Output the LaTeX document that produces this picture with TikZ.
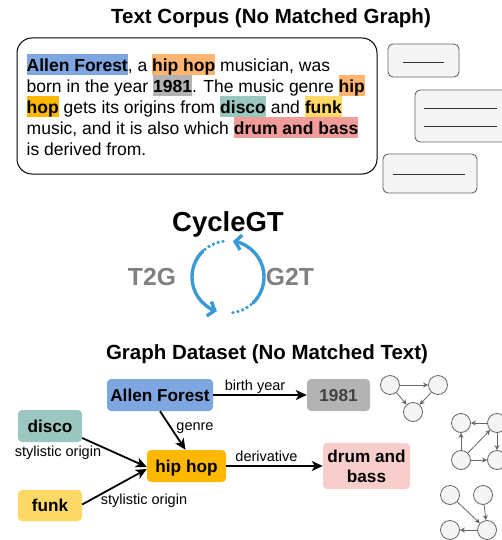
\documentclass[tikz,border=0pt]{standalone}
\usepackage{fontspec}
\setmainfont{Liberation Sans}
\usetikzlibrary{arrows.meta,calc}
\definecolor{cblue}{HTML}{7EA6E0}
\definecolor{cpeach}{HTML}{FFB570}
\definecolor{corange}{HTML}{FFB800}
\definecolor{cgray}{HTML}{B3B3B3}
\definecolor{cteal}{HTML}{9AC7BF}
\definecolor{cyellow}{HTML}{FFD966}
\definecolor{cred}{HTML}{F19C99}
\definecolor{cpink}{HTML}{F8CECC}
\definecolor{cboxfill}{HTML}{F5F5F5}
\definecolor{cboxdraw}{HTML}{666666}
\definecolor{ccycle}{HTML}{3A9AD6}
\definecolor{ctxtgray}{HTML}{808080}
\newcommand\hlt[2]{{\setlength{\fboxsep}{0pt}\colorbox{#1}{\rule[-3.7pt]{0pt}{21pt}\textbf{#2}}}}
\begin{document}
\begin{tikzpicture}[x=1pt,y=-1pt,
  title/.style={anchor=base, inner sep=0pt, font=\bfseries\fontsize{20.5}{24}\selectfont},
  gnode/.style={rounded corners=4pt, inner sep=0pt, font=\bfseries\fontsize{17.2}{20}\selectfont, align=center},
  oneline/.style={text height=12.3pt, text depth=0pt},
  rel/.style={draw=black, line width=1.8pt, -{Stealth[length=11pt,width=10pt,inset=3pt]}},
  lbl/.style={anchor=base, inner sep=0pt, font=\fontsize{14.5}{17}\selectfont},
  minibox/.style={draw=cboxdraw, fill=cboxfill, rounded corners=5pt, line width=0.9pt, inner sep=0pt},
  miniline/.style={draw=black!80, line width=0.9pt},
  mini/.style={circle, minimum size=19pt, inner sep=0pt, draw=cboxdraw, fill=cboxfill, line width=0.8pt},
  miniarr/.style={draw=cboxdraw, line width=0.8pt, -{Stealth[length=5pt,width=5pt]}},
  cyc/.style={draw=ccycle, line width=3.4pt, line cap=round},
  cycdots/.style={draw=ccycle, line width=3.6pt, line cap=round, dash pattern=on 0pt off 5pt},
  cycarr/.style={-{Straight Barb[length=6pt,width=15pt]}}
]
\useasboundingbox (0,0) rectangle (502,540);

% ---------- Text corpus ----------
\node[title] (t1) at (271,23.7) {Text Corpus (No Matched Graph)};
\draw[line width=1pt, rounded corners=15pt, fill=white] (17,38) rectangle (377,174);
\node[anchor=north west, inner sep=0pt, align=left, font=\fontsize{17.5}{21}\selectfont] (corpus) at (26.5,53.7)
{\hlt{cblue}{Allen Forest}, a \hlt{cpeach}{hip hop} musician, was\\
born in the year \hlt{cgray}{1981}. The music genre \hlt{cpeach}{hip}\\
\hlt{corange}{hop} gets its origins from \hlt{cteal}{disco} and \hlt{cyellow}{funk}\\
music, and it is also which \hlt{cred}{drum and bass}\\
is derived from.};

% right boxes
\node[minibox, minimum width=71pt, minimum height=33pt] (rb1) at (423.5,60.5) {};
\draw[miniline] (403,62) -- (444,62);
\node[minibox, minimum width=92pt, minimum height=52pt] (rb2) at (461,116) {};
\draw[miniline] (424,108) -- (497,108);
\draw[miniline] (424,126) -- (497,126);
\node[minibox, minimum width=94pt, minimum height=39pt] (rb3) at (430,173.5) {};
\draw[miniline] (393,174) -- (465,174);

% ---------- CycleGT ----------
\node[anchor=base, inner sep=0pt, font=\bfseries\fontsize{27.5}{30}\selectfont] (cgt) at (228,231.7) {CycleGT};
\node[anchor=base, inner sep=0pt, text=ctxtgray, font=\bfseries\fontsize{24.7}{28}\selectfont] (t2g) at (152,285.7) {T2G};
\node[anchor=base, inner sep=0pt, text=ctxtgray, font=\bfseries\fontsize{24.7}{28}\selectfont] (g2t) at (290,285.7) {G2T};
\begin{scope}[shift={(228,277)}, y=1pt]
  \draw[cycdots] (98:36) arc (98:131:36);
  \draw[cyc, cycarr] (134:36) arc (134:252:36);
  \draw[cycdots] (278:36) arc (278:311:36);
  \draw[cyc, cycarr] (314:36) arc (314:442:36);
\end{scope}

% ---------- Graph dataset ----------
\node[title] (t2) at (267,359.7) {Graph Dataset (No Matched Text)};

\node[gnode, oneline, fill=cblue, minimum width=106pt, minimum height=32pt] (allen) at (160,395) {Allen Forest};
\node[gnode, oneline, fill=cgray, text=black!75, minimum width=63pt, minimum height=32pt] (y1981) at (338.5,395) {1981};
\node[gnode, oneline, fill=cteal, minimum width=64pt, minimum height=32pt] (disco) at (50,426) {disco};
\node[gnode, oneline, fill=corange, minimum width=79pt, minimum height=32pt] (hiphop) at (186.5,466) {hip hop};
\node[gnode, oneline, fill=cyellow, minimum width=64pt, minimum height=31pt] (funk) at (50,505.5) {funk};
\node[gnode, fill=cpink, minimum width=87pt, minimum height=46pt] (dnb) at (366.5,466) {drum and\\bass};

\draw[rel] (allen.east) -- (y1981.west);
\draw[rel] (allen.south) -- ([xshift=-1pt]hiphop.north);
\draw[rel] ([yshift=-12pt]disco.east) -- ([yshift=-1pt]hiphop.west);
\draw[rel] ([yshift=1pt]funk.east) -- ([yshift=-3pt]hiphop.west);
\draw[rel] (hiphop.east) -- (dnb.west);

\node[lbl] (l1) at (255,390.7) {birth year};
\node[lbl] (l2) at (195,430) {genre};
\node[lbl] (l3) at (266.5,461.7) {derivative};
\node[lbl] (l4) at (58,456.7) {stylistic origin};
\node[lbl] (l5) at (144,504) {stylistic origin};

% small graphs
\node[mini] (a1) at (390,385) {};
\node[mini] (a2) at (438,385) {};
\node[mini] (a3) at (413,412) {};
\draw[miniarr] (a1) -- (a2);
\draw[miniarr] (a1) -- (a3);
\draw[miniarr] (a2) -- (a3);

\node[mini] (b1) at (461,423) {};
\node[mini] (b2) at (497,423) {};
\node[mini] (b3) at (461,460) {};
\node[mini] (b4) at (497,460) {};
\draw[miniarr] (b2) -- (b1);
\draw[miniarr] (b3) -- (b1);
\draw[miniarr] (b3) -- (b2);
\draw[miniarr] (b2) -- (b4);
\draw[miniarr] (b3) -- (b4);

\node[mini] (c1) at (450,495) {};
\node[mini] (c2) at (483,495) {};
\node[mini] (c3) at (450,530) {};
\node[mini] (c4) at (487,530) {};
\draw[miniarr] (c1) -- (c4);
\draw[miniarr] (c2) -- (c4);
\draw[miniarr] (c4) -- (c3);
\end{tikzpicture}
\end{document}
